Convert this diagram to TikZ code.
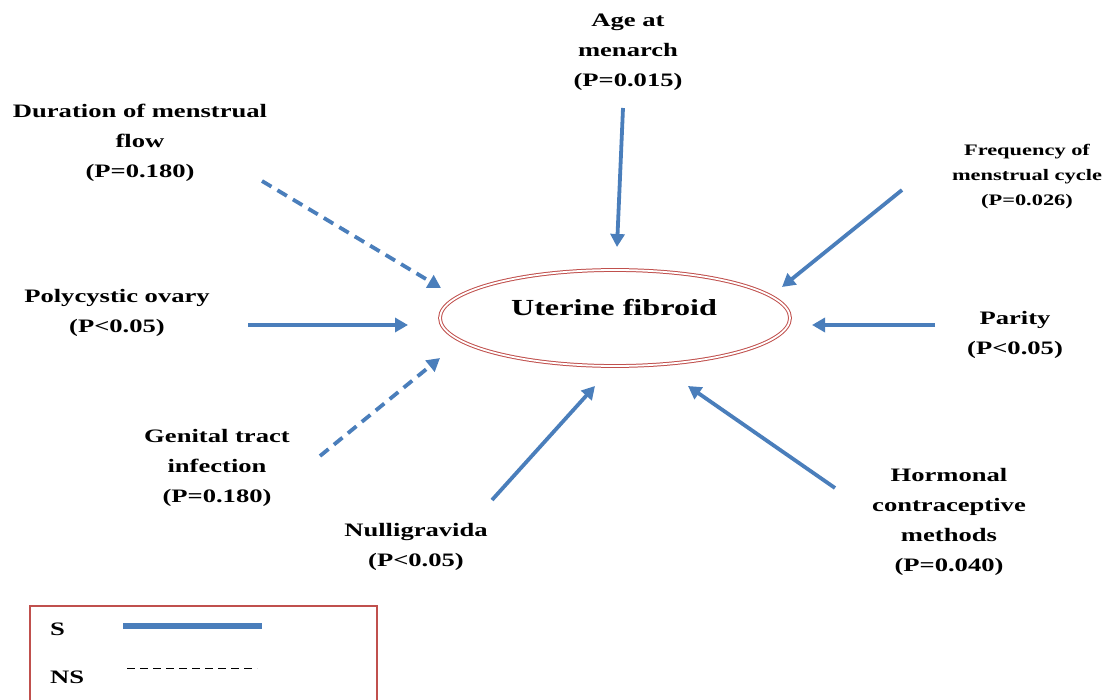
\documentclass[tikz,border=0pt]{standalone}
\usepackage{fontspec}
\setmainfont{Liberation Serif}
\newfontfamily\widefont[FakeStretch=1.4]{Liberation Serif}
\usetikzlibrary{arrows.meta,shapes.geometric}
\definecolor{ablue}{HTML}{4A7EBB}
\definecolor{ared}{HTML}{C0504D}
\tikzset{
  lbl/.style={font=\widefont\bfseries\fontsize{19}{30}\selectfont, align=center, inner sep=0pt},
  lbls/.style={font=\widefont\bfseries\fontsize{16}{25}\selectfont, align=center, inner sep=0pt},
  sarr/.style={draw=ablue, line width=3.8pt, -{Triangle[length=13pt,width=14pt]}},
  nsarr/.style={sarr, dash pattern=on 11pt off 7pt},
}
\begin{document}
\begin{tikzpicture}[x=1pt,y=-1pt]
\useasboundingbox (0,0) rectangle (1110,700);
\clip (0,0) rectangle (1110,700);
% center
\node[draw=ared, double=white, double distance=1.8pt, line width=1pt, ellipse, minimum width=350pt, minimum height=96pt, inner sep=0pt] (uf) at (615,318) {};
\node[font=\widefont\bfseries\fontsize{23}{28}\selectfont, inner sep=0pt] (uft) at (614,308) {Uterine fibroid};
% labels
\node[lbl] (age) at (628,52) {Age at\\menarch\\(P=0.015)};
\node[lbl] (dur) at (140,143) {Duration of menstrual\\flow\\(P=0.180)};
\node[lbls] (freq) at (1027,177) {Frequency of\\menstrual cycle\\(P=0.026)};
\node[lbl] (poly) at (117,313) {Polycystic ovary\\(P<0.05)};
\node[lbl] (par) at (1015,335) {Parity\\(P<0.05)};
\node[lbl] (gen) at (217,468) {Genital tract\\infection\\(P=0.180)};
\node[lbl] (nul) at (416,547) {Nulligravida\\(P<0.05)};
\node[lbl] (hor) at (949,522) {Hormonal\\contraceptive\\methods\\(P=0.040)};
% arrow anchor coordinates
\coordinate (a1) at (623,108); \coordinate (b1) at (617,247);
\coordinate (a2) at (262,181); \coordinate (b2) at (441,288);
\coordinate (a3) at (902,190); \coordinate (b3) at (782,287);
\coordinate (a4) at (248,325); \coordinate (b4) at (408,325);
\coordinate (a5) at (935,325); \coordinate (b5) at (812,325);
\coordinate (a6) at (320,456); \coordinate (b6) at (440,358);
\coordinate (a7) at (492,500); \coordinate (b7) at (595,386);
\coordinate (a8) at (835,488); \coordinate (b8) at (688,386);
\draw[sarr] (a1) -- (b1);
\draw[nsarr] (a2) -- (b2);
\draw[sarr] (a3) -- (b3);
\draw[sarr] (a4) -- (b4);
\draw[sarr] (a5) -- (b5);
\draw[nsarr] (a6) -- (b6);
\draw[sarr] (a7) -- (b7);
\draw[sarr] (a8) -- (b8);
% legend
\draw[ared, line width=2.5pt] (30,720) -- (30,606) -- (377,606) -- (377,720);
\node[lbl, anchor=west] (ls) at (50,629) {S};
\node[lbl, anchor=west] (lns) at (50,677) {NS};
\coordinate (s1) at (123,626); \coordinate (s2) at (262,626);
\coordinate (n1) at (127,668); \coordinate (n2) at (257,668);
\draw[ablue, line width=6pt] (s1) -- (s2);
\draw[black, line width=1pt, dash pattern=on 8pt off 5pt] (n1) -- (n2);
\end{tikzpicture}
\end{document}
